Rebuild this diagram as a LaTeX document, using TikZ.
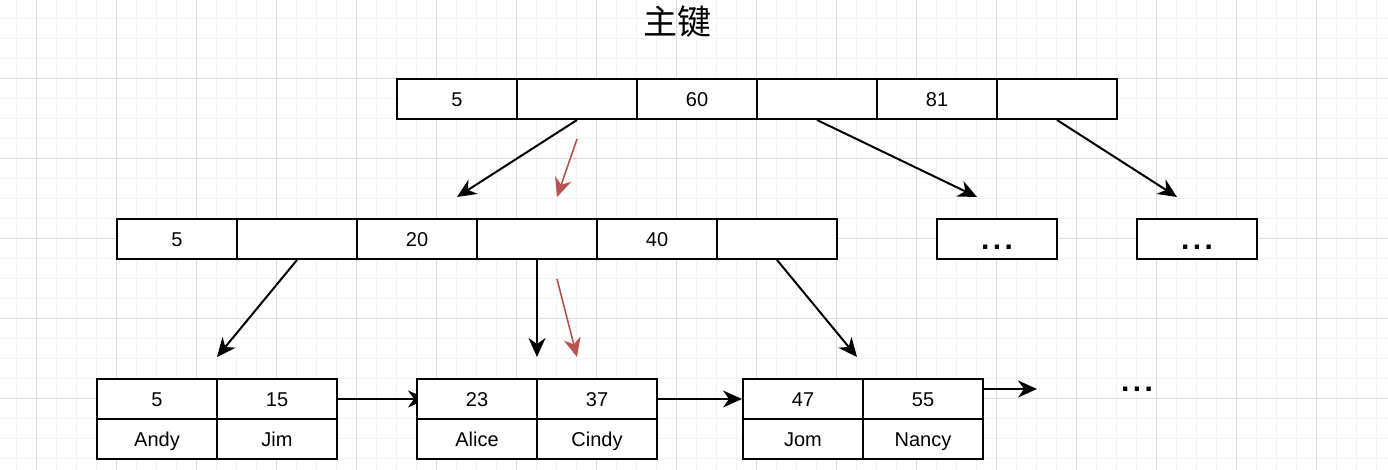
\documentclass[tikz,border=0pt]{standalone}
\usepackage{fontspec}
\setmainfont{Liberation Sans}
\newfontfamily\cjkfont{Noto Sans CJK SC}
\usetikzlibrary{arrows.meta}
\pgfdeclarelayer{gridlayer}
\pgfdeclarelayer{arrowlayer}
\pgfsetlayers{gridlayer,arrowlayer,main}
\definecolor{minorgrid}{HTML}{F3F3F3}
\definecolor{majorgrid}{HTML}{DCDCDC}
\definecolor{redarrow}{HTML}{B85450}
\tikzset{
  cell/.style={draw=black, line width=2pt, fill=white, minimum width=120pt, minimum height=40pt, inner sep=0pt, font=\fontsize{20}{24}\selectfont, text height=14.5pt, text depth=0pt},
  morebox/.style={cell, font=\fontsize{30}{34}\selectfont\bfseries, text height=22pt, text depth=0pt},
  dotstext/.style={inner sep=0pt, font=\fontsize{30}{34}\selectfont\bfseries},
  link/.style={line width=2pt, -{Stealth[length=19pt, width=17pt, inset=6pt]}},
  redlink/.style={link, draw=redarrow, fill=redarrow, line width=1.6pt},
  minorline/.style={draw=minorgrid, line width=1pt},
  majorline/.style={draw=majorgrid, line width=1pt},
}
\newcommand{\dotsdots}{.\kern3.5pt.\kern3.5pt.}
\begin{document}
\begin{tikzpicture}[x=1pt, y=-1pt]
\useasboundingbox (0,0) rectangle (1388,470);
\begin{pgfonlayer}{gridlayer}
  \fill[white] (0,0) rectangle (1388,470);
  \foreach \x in {16,36,...,1388} \draw[minorline] (\x+0.5,0) -- (\x+0.5,470);
  \foreach \y in {18,38,...,470} \draw[minorline] (0,\y+0.5) -- (1388,\y+0.5);
  \foreach \x in {36,116,...,1388} \draw[majorline] (\x+0.5,0) -- (\x+0.5,470);
  \foreach \y in {78,158,...,470} \draw[majorline] (0,\y+0.5) -- (1388,\y+0.5);
\end{pgfonlayer}

% title
\node[font=\fontsize{34}{40}\selectfont\cjkfont, inner sep=0pt] (title) at (677,22) {主键};

% top row
\node[cell] (r1) at (457,99) {5};
\node[cell] (r2) at (577,99) {};
\node[cell] (r3) at (697,99) {60};
\node[cell] (r4) at (817,99) {};
\node[cell] (r5) at (937,99) {81};
\node[cell] (r6) at (1057,99) {};

% middle row
\node[cell] (m1) at (177,239) {5};
\node[cell] (m2) at (297,239) {};
\node[cell] (m3) at (417,239) {20};
\node[cell] (m4) at (537,239) {};
\node[cell] (m5) at (657,239) {40};
\node[cell] (m6) at (777,239) {};
\node[morebox] (e1) at (997,239) {\dotsdots};
\node[morebox] (e2) at (1197,239) {\dotsdots};

% leaves
\node[cell] (a1) at (157,399) {5};
\node[cell] (a2) at (277,399) {15};
\node[cell] (a3) at (157,439) {Andy};
\node[cell] (a4) at (277,439) {Jim};
\node[cell] (b1) at (477,399) {23};
\node[cell] (b2) at (597,399) {37};
\node[cell] (b3) at (477,439) {Alice};
\node[cell] (b4) at (597,439) {Cindy};
\node[cell] (c1) at (803,399) {47};
\node[cell] (c2) at (923,399) {55};
\node[cell] (c3) at (803,439) {Jom};
\node[cell] (c4) at (923,439) {Nancy};
\node[dotstext] (tail) at (1137,389) {\dotsdots};

% free ends
\coordinate (t1) at (457,197);
\coordinate (rs1) at (577,139);
\coordinate (rt1) at (557,197);
\coordinate (t2) at (977,197);
\coordinate (t3) at (1177,197);
\coordinate (u1) at (217,357);
\coordinate (u2) at (537,357);
\coordinate (rs2) at (557,279);
\coordinate (rt2) at (577,357);
\coordinate (u3) at (857,357);
\coordinate (l1) at (427,399);
\coordinate (s3) at (984,389);
\coordinate (l3) at (1037,389);

\begin{pgfonlayer}{arrowlayer}
  \draw[link] (r2.south) -- (t1);
  \draw[redlink] (rs1) -- (rt1);
  \draw[link] (r4.south) -- (t2);
  \draw[link] (r6.south) -- (t3);
  \draw[link] (m2.south) -- (u1);
  \draw[link] (m4.south) -- (u2);
  \draw[redlink] (rs2) -- (rt2);
  \draw[link] (m6.south) -- (u3);
  \draw[link] (a2.east) -- (l1);
  \draw[link] (b2.east) -- (c1.west);
  \draw[link] (s3) -- (l3);
\end{pgfonlayer}
\end{tikzpicture}
\end{document}
